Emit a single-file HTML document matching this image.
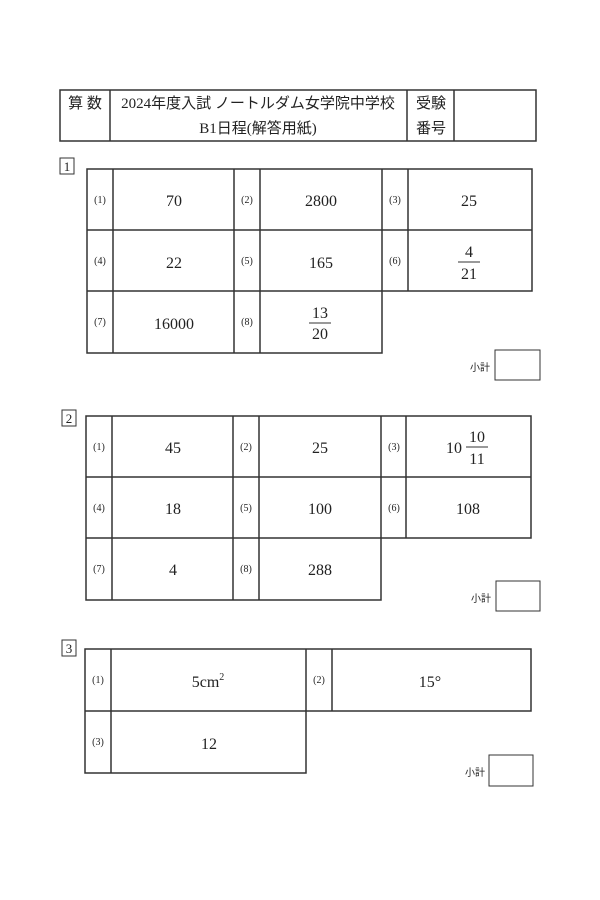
<!DOCTYPE html>
<html><head><meta charset="utf-8"><style>
html,body{margin:0;padding:0;background:#fff;}
svg{display:block;}
text{font-family:"Liberation Serif","Noto Serif CJK SC",serif;fill:#222;}
.j{font-family:"Liberation Serif","Noto Sans CJK JP",sans-serif;}
.s{font-size:10px;}
.a{font-size:16px;}
</style></head><body>
<svg width="600" height="900" viewBox="0 0 600 900" xmlns="http://www.w3.org/2000/svg">
<g fill="none" stroke="#333" stroke-width="1.5">
<rect x="60" y="90" width="476" height="51"/>
<line x1="110" y1="90" x2="110" y2="141"/>
<line x1="407" y1="90" x2="407" y2="141"/>
<line x1="454" y1="90" x2="454" y2="141"/>
<rect x="60" y="158" width="14" height="16" stroke-width="1"/>
<path d="M87 169H532V291H382V353H87Z"/>
<line x1="87" y1="230" x2="532" y2="230"/>
<line x1="87" y1="291" x2="382" y2="291"/>
<line x1="113" y1="169" x2="113" y2="353"/>
<line x1="234" y1="169" x2="234" y2="353"/>
<line x1="260" y1="169" x2="260" y2="353"/>
<line x1="382" y1="169" x2="382" y2="291"/>
<line x1="408" y1="169" x2="408" y2="291"/>
<rect x="495" y="350" width="45" height="30" stroke-width="1"/>
<rect x="62" y="410" width="14" height="16" stroke-width="1"/>
<path d="M86 416H531V538H381V600H86Z"/>
<line x1="86" y1="477" x2="531" y2="477"/>
<line x1="86" y1="538" x2="381" y2="538"/>
<line x1="112" y1="416" x2="112" y2="600"/>
<line x1="233" y1="416" x2="233" y2="600"/>
<line x1="259" y1="416" x2="259" y2="600"/>
<line x1="381" y1="416" x2="381" y2="538"/>
<line x1="406" y1="416" x2="406" y2="538"/>
<rect x="496" y="581" width="44" height="30" stroke-width="1"/>
<rect x="62" y="640" width="14" height="16" stroke-width="1"/>
<path d="M85 649H531V711H306V773H85Z"/>
<line x1="85" y1="711" x2="306" y2="711"/>
<line x1="111" y1="649" x2="111" y2="773"/>
<line x1="306" y1="649" x2="306" y2="711"/>
<line x1="332" y1="649" x2="332" y2="711"/>
<rect x="489" y="755" width="44" height="31" stroke-width="1"/>
</g>
<g stroke="#333" stroke-width="1">
<line x1="458" y1="262" x2="480" y2="262"/>
<line x1="309" y1="323" x2="331" y2="323"/>
<line x1="466" y1="447" x2="488" y2="447"/>
</g>
<text class="j" x="85" y="108" font-size="15" text-anchor="middle">算 数</text>
<text class="j" x="258" y="108" font-size="15" text-anchor="middle">2024年度入試 ノートルダム女学院中学校</text>
<text class="j" x="258" y="133" font-size="15" text-anchor="middle">B1日程(解答用紙)</text>
<text class="j" x="431" y="108" font-size="15" text-anchor="middle">受験</text>
<text class="j" x="431" y="133" font-size="15" text-anchor="middle">番号</text>
<text x="67" y="171" font-size="13" text-anchor="middle">1</text>
<text x="69" y="423" font-size="13" text-anchor="middle">2</text>
<text x="69" y="653" font-size="13" text-anchor="middle">3</text>
<g class="s" text-anchor="middle">
<text x="100" y="203">(1)</text><text x="247" y="203">(2)</text><text x="395" y="203">(3)</text>
<text x="100" y="264">(4)</text><text x="247" y="264">(5)</text><text x="395" y="264">(6)</text>
<text x="100" y="325">(7)</text><text x="247" y="325">(8)</text>
<text x="99" y="450">(1)</text><text x="246" y="450">(2)</text><text x="394" y="450">(3)</text>
<text x="99" y="511">(4)</text><text x="246" y="511">(5)</text><text x="394" y="511">(6)</text>
<text x="99" y="572">(7)</text><text x="246" y="572">(8)</text>
<text x="98" y="683">(1)</text><text x="319" y="683">(2)</text>
<text x="98" y="745">(3)</text>
</g>
<g class="a" text-anchor="middle">
<text x="174" y="206">70</text><text x="321" y="206">2800</text><text x="469" y="206">25</text>
<text x="174" y="268">22</text><text x="321" y="268">165</text>
<text x="469" y="257">4</text><text x="469" y="279">21</text>
<text x="174" y="329">16000</text>
<text x="320" y="318">13</text><text x="320" y="339">20</text>
<text x="173" y="453">45</text><text x="320" y="453">25</text>
<text x="454" y="453">10</text>
<text x="477" y="442">10</text><text x="477" y="464">11</text>
<text x="173" y="514">18</text><text x="320" y="514">100</text><text x="468" y="514">108</text>
<text x="173" y="575">4</text><text x="320" y="575">288</text>
<text x="208" y="687">5cm<tspan font-size="10" dy="-7">2</tspan></text>
<text x="430" y="687">15°</text>
<text x="209" y="749">12</text>
</g>
<text class="j" x="480" y="371" font-size="10" text-anchor="middle">小計</text>
<text class="j" x="481" y="602" font-size="10" text-anchor="middle">小計</text>
<text class="j" x="475" y="776" font-size="10" text-anchor="middle">小計</text>
</svg>
</body></html>
